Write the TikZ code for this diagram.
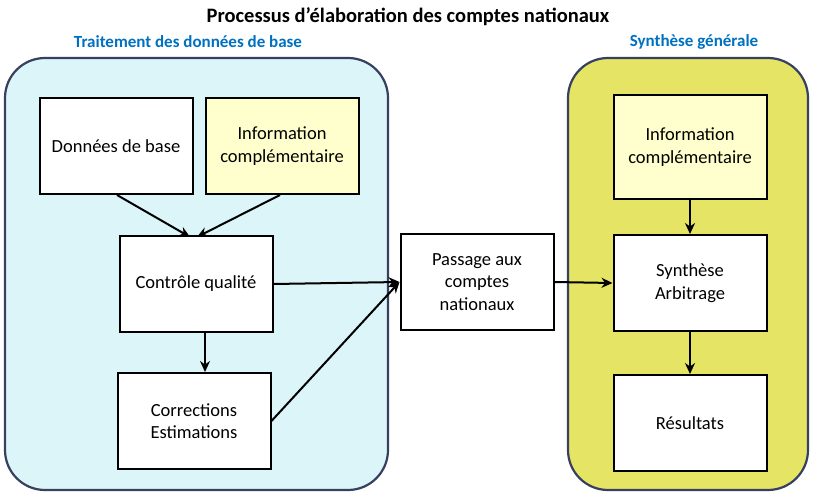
\documentclass[tikz,border=0pt]{standalone}
\usepackage{fontspec}
\setmainfont{Carlito}
\usetikzlibrary{positioning,arrows.meta}
\definecolor{zoneblue}{RGB}{220,245,248}
\definecolor{zoneyellow}{RGB}{230,228,100}
\definecolor{paleyellow}{RGB}{255,255,205}
\definecolor{zoneborder}{RGB}{55,65,95}
\definecolor{titleblue}{RGB}{0,112,192}
\begin{document}
\begin{tikzpicture}[
    x=1pt, y=-1pt,
    zone/.style={draw=zoneborder, line width=2.2pt, rounded corners=40pt},
    stepbox/.style={rectangle, draw, line width=2pt, fill=white, minimum width=153pt, minimum height=96pt, align=center, font=\fontsize{18.5}{22.5}\selectfont},
    infobox/.style={stepbox, fill=paleyellow},
    zonelabel/.style={font=\bfseries\fontsize{17}{20}\selectfont, text=titleblue},
    flow/.style={-{Stealth[length=11pt,width=10pt]}, line width=2pt}
]
\useasboundingbox (0,0) rectangle (817,497);
% Zones
\draw[zone, fill=zoneblue] (5,58) rectangle (388,490);
\draw[zone, fill=zoneyellow] (568,58) rectangle (808,490);
\node[font=\bfseries\fontsize{20.5}{24}\selectfont] (title) at (408,17) {Processus d'élaboration des comptes nationaux};
\node[zonelabel] (lefttitle) at (188,42) {Traitement des données de base};
\node[zonelabel] (righttitle) at (694,42) {Synthèse générale};

% Left zone
\node[stepbox] (base) at (116,146) {Données de base};
\node[infobox] (infoL) at (282,146) {Information\\complémentaire};
\node[stepbox] (ctrl) at (196,284) {Contrôle qualité};
\node[stepbox] (corr) at (194,421) {Corrections\\Estimations};

% Middle
\node[stepbox] (pass) at (477,282) {Passage aux\\comptes\\nationaux};

% Right zone
\node[infobox, minimum height=104pt] (infoR) at (690,147) {Information\\complémentaire};
\node[stepbox] (synth) at (690,283) {Synthèse\\Arbitrage};
\node[stepbox] (res) at (690,423) {Résultats};

% Arrows
\draw[flow] (117,195) -- (190,237);
\draw[flow] (280,195) -- (197,237);
\draw[flow] (ctrl.south -| 205,0) -- (corr.north -| 205,0);
\draw[flow] (ctrl.east) -- (pass.west);
\draw[flow] (corr.east) -- (pass.west);
\draw[flow] (pass.east) -- (synth.west);
\draw[flow] (infoR) -- (synth);
\draw[flow] (synth) -- (res);
\end{tikzpicture}
\end{document}
